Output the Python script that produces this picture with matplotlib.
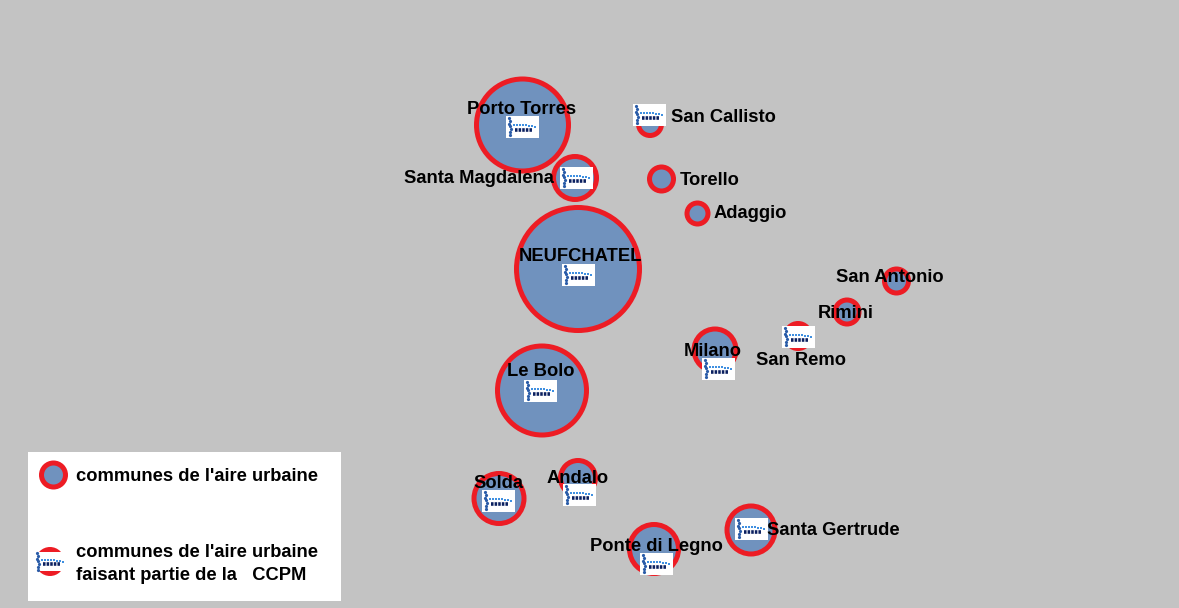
import matplotlib
matplotlib.use('Agg')
import matplotlib.pyplot as plt
from matplotlib.patches import Circle, Rectangle

W, H = 1179, 608
BG = '#c3c3c3'
RED = '#ed1c24'
BLUE = '#7092be'

# communes : pixel positions
names = ['Porto Torres', 'Santa Magdalena', 'San Callisto', 'Torello', 'Adaggio',
         'NEUFCHATEL', 'San Antonio', 'Rimini', 'San Remo', 'Milano',
         'Le Bolo', 'Solda', 'Andalo', 'Santa Gertrude', 'Ponte di Legno']
cx = [522.5, 575, 650, 661.5, 697.5, 578, 896.5, 847, 798, 715, 542, 499, 578, 751, 654]
cy = [125, 178, 124, 179, 213.5, 269, 281, 312, 336, 350, 390.5, 498.5, 478, 530, 549]
radius = [48.5, 24, 14, 14.5, 13, 64, 14.5, 14.5, 15, 23.5, 47, 27.5, 20, 26.5, 27]
label_x = [467, 404, 671, 680, 714, 519, 836, 818, 756, 684, 507, 473, 547, 767, 590]
label_y = [109.5, 178.5, 117.5, 180.5, 213.5, 256.5, 277.5, 313.5, 360.5, 351.5, 371.5, 483.5, 478.5, 530.5, 546.5]

# logos (centre)
logo_x = [522, 576, 649, 578, 798, 718, 540, 498, 579, 751, 656]
logo_y = [127, 178, 115, 275, 337, 369, 391, 501, 495, 529, 564]


def draw_logo(ax, x, y, h=22):
    ax.add_patch(Rectangle((x - 16.5, y - h / 2), 33, h, fc='white', ec='none', zorder=4))
    # petit dessin du logo
    ax.plot([x - 13, x - 12.5, x - 13, x - 12, x - 11, x - 12, x - 12],
            [y - 9, y - 6, y - 3, y - 1, y + 2, y + 5, y + 8],
            ls='none', marker='o', ms=2.3, mew=0, color='#2a5ca8', zorder=5)
    ax.plot([x - 8, x - 5, x - 2, x + 1, x + 4, x + 7, x + 10, x + 13],
            [y - 2, y - 2, y - 2, y - 2, y - 2, y - 1, y - 1, y],
            ls='none', marker='s', ms=1.7, mew=0, color='#3f8fe0', zorder=5)
    ax.plot([x - 7, x + 10], [y + 2.5, y + 2.5], color='#0b2060', lw=2.6, ls=(0, (0.7, 0.3)),
            solid_capstyle='butt', zorder=5)


fig = plt.figure(figsize=(W / 100, H / 100), dpi=100, facecolor=BG)
ax = fig.add_axes([0, 0, 1, 1])
ax.set_xlim(0, W)
ax.set_ylim(H, 0)
ax.axis('off')

for x, y, r in zip(cx, cy, radius):
    ax.add_patch(Circle((x, y), r - 2.5, fc=BLUE, ec=RED, lw=3.6, zorder=2))

for x, y in zip(logo_x, logo_y):
    draw_logo(ax, x, y)

font = dict(family='Liberation Sans', fontweight='bold', fontsize=13.2, color='black', va='center', zorder=6)
for n, x, y in zip(names, label_x, label_y):
    ax.text(x, y, n, **font)

# legende
ax.add_patch(Rectangle((28, 452), 313, 149, fc='white', ec='none', zorder=3))
ax.add_patch(Circle((53.5, 475), 12, fc=BLUE, ec=RED, lw=3.6, zorder=4))
ax.text(76, 476.5, "communes de l'aire urbaine", **font)
ax.add_patch(Circle((50, 561.5), 12, fc=BLUE, ec=RED, lw=3.6, zorder=4))
ax.add_patch(Rectangle((33, 552), 34, 19, fc='white', ec='none', zorder=4))
draw_logo(ax, 50, 561.5, h=18)
ax.text(76, 552.5, "communes de l'aire urbaine", **font)
ax.text(76, 575.5, "faisant partie de la   CCPM", **font)

fig.savefig('out.png', dpi=100, facecolor=BG)
